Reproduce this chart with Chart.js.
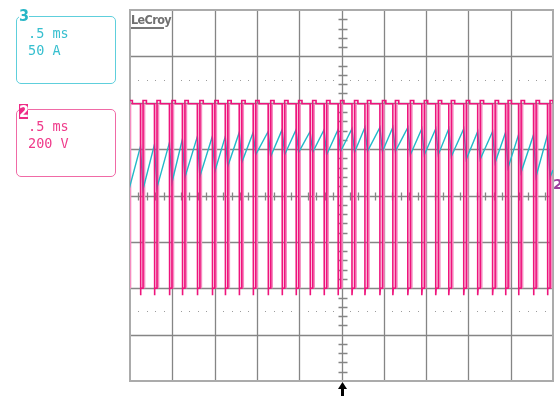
<!DOCTYPE html>
<html>
<head>
<meta charset="utf-8">
<script src="https://cdn.jsdelivr.net/npm/chart.js@4.4.1/dist/chart.umd.min.js"></script>
<style>
html,body{margin:0;padding:0;background:#fff;}
#wrap{position:relative;width:560px;height:396px;overflow:hidden;background:#fff;}
#c{position:absolute;left:0;top:0;}
.box{position:absolute;box-sizing:border-box;border-radius:5px;}
.txt{position:absolute;font-family:"DejaVu Sans Mono",monospace;font-size:13.5px;line-height:16px;white-space:pre;}
.lbl{position:absolute;font-family:"DejaVu Sans Condensed","DejaVu Sans",sans-serif;font-weight:bold;font-size:16px;line-height:15px;text-align:center;}
#lecroy{position:absolute;left:131px;top:12px;font-family:"DejaVu Sans Condensed","DejaVu Sans",sans-serif;font-weight:bold;font-size:12.5px;color:#707070;letter-spacing:-0.6px;line-height:15px;}
#lecroyline{position:absolute;left:131px;top:27px;width:33px;height:2px;background:#777;}
#mark2{position:absolute;left:553px;top:176px;font-family:"DejaVu Sans",sans-serif;font-weight:bold;font-size:14px;color:#9c3f9c;line-height:16px;}
</style>
</head>
<body>
<div id="wrap">
<canvas id="c" width="560" height="396"></canvas>
<div class="box" style="left:16px;top:16px;width:100px;height:68px;border:1.5px solid #5ecfdc;"></div>
<div class="lbl" style="left:19px;top:8px;width:10px;height:15px;background:#fff;color:#28b6c6;">3</div>
<div class="txt" style="left:28px;top:25px;color:#36bfcf;">.5 ms</div>
<div class="txt" style="left:28px;top:42px;color:#36bfcf;">50 A</div>
<div class="box" style="left:16px;top:109px;width:100px;height:68px;border:1.5px solid #f06aa6;"></div>
<div class="lbl" style="left:19px;top:104px;width:9px;height:15px;background:#ee2a86;color:#fff;">2</div>
<div class="txt" style="left:28px;top:118px;color:#ef3a8a;">.5 ms</div>
<div class="txt" style="left:28px;top:135px;color:#ef3a8a;">200 V</div>
<div id="lecroy">LeCroy</div>
<div id="lecroyline"></div>
<div id="mark2">2</div>
</div>
<script>
// ---- axes (time in ms, 0.5 ms/div; vertical in screen divisions) ----
const xGridMs = [-2.5, -2.0, -1.5, -1.0, -0.5, 0, 0.5, 1.0, 1.5, 2.0, 2.5];
const yGridDiv = [-4, -3, -2, -1, 0, 1, 2, 3, 4];
const dotRowsDiv = [2.5, -2.5];

const ch2RiseMs = [-2.512, -2.346, -2.181, -2.004, -1.851, -1.674, -1.497, -1.344, -1.179, -1.014,
  -0.837, -0.672, -0.507, -0.341, -0.176, -0.011, 0.154, 0.307, 0.484, 0.637,
  0.814, 0.979, 1.144, 1.298, 1.475, 1.640, 1.816, 1.969, 2.123, 2.300, 2.465];
const ch2FallMs = [-2.376, -2.211, -2.034, -1.881, -1.704, -1.527, -1.374, -1.209, -1.044, -0.867,
  -0.702, -0.537, -0.371, -0.206, -0.041, 0.124, 0.277, 0.454, 0.607, 0.784,
  0.949, 1.114, 1.268, 1.445, 1.610, 1.786, 1.939, 2.093, 2.270, 2.435];
const ch2HighDiv = 1.98;
const ch2OvershootDiv = 2.05;
const ch2LowDiv = -2.0;
const ch2UndershootDiv = -2.15;

// ---- channel 3 (current, 50 A/div): trough at each rise, peak at each fall ----
const ch3TroughDiv = [0.13, 0.13, 0.17, 0.28, 0.39, 0.41, 0.52, 0.63, 0.71, 0.88,
  0.84, 0.88, 0.93, 0.93, 0.88, 0.95, 0.93, 0.95, 0.95, 0.95,
  0.88, 0.88, 0.88, 0.84, 0.78, 0.78, 0.71, 0.60, 0.50, 0.41, 0.39];
const ch3PeakDiv = [1.06, 1.10, 1.14, 1.21, 1.27, 1.27, 1.27, 1.36, 1.36, 1.38,
  1.42, 1.42, 1.38, 1.42, 1.42, 1.44, 1.47, 1.47, 1.47, 1.47,
  1.44, 1.44, 1.44, 1.44, 1.38, 1.38, 1.36, 1.31, 1.31, 1.31];
const ch3EndMs = 2.5, ch3EndDiv = 0.55;

// build traces
const ch2Pts = [];
const ch2PaleEdges = [];
for (let k = 0; k < ch2RiseMs.length; k++) {
  const r = ch2RiseMs[k];
  ch2Pts.push({x: r, y: ch2LowDiv}, {x: r, y: ch2OvershootDiv}, {x: r + 0.04, y: ch2OvershootDiv}, {x: r + 0.04, y: ch2HighDiv});
  ch2PaleEdges.push({x: r + 0.012, y: ch2LowDiv}, {x: r + 0.012, y: ch2HighDiv}, {x: r + 0.012, y: null});
  if (k < ch2FallMs.length) {
    const f = ch2FallMs[k];
    ch2Pts.push({x: f, y: ch2HighDiv}, {x: f, y: ch2UndershootDiv}, {x: f + 0.005, y: ch2LowDiv});
  }
}
ch2Pts.push({x: 2.5, y: ch2HighDiv});

const ch3Pts = [];
for (let k = 0; k < ch2RiseMs.length; k++) {
  ch3Pts.push({x: ch2RiseMs[k], y: ch3TroughDiv[k]});
  if (k < ch2FallMs.length) ch3Pts.push({x: ch2FallMs[k], y: ch3PeakDiv[k]});
}
ch3Pts.push({x: ch3EndMs, y: ch3EndDiv});

const scopeGrid = {
  id: 'scopeGrid',
  beforeDatasetsDraw(chart) {
    const {ctx, chartArea: a, scales: {x, y}} = chart;
    ctx.save();
    ctx.fillStyle = '#9c9c9c';
    for (const yv of dotRowsDiv) {
      const py = Math.round(y.getPixelForValue(yv));
      for (let i = 0; i <= 50; i++) {
        if (i % 5 === 0) continue;
        const px = Math.round(x.getPixelForValue(-2.5 + i * 0.1));
        ctx.fillRect(px, py, 1, 1);
      }
    }
    ctx.strokeStyle = '#858585';
    ctx.lineWidth = 1.3;
    ctx.beginPath();
    for (const xv of xGridMs.slice(1, -1)) {
      const px = Math.round(x.getPixelForValue(xv)) + 0.5;
      ctx.moveTo(px, a.top); ctx.lineTo(px, a.bottom);
    }
    for (const yv of yGridDiv.slice(1, -1)) {
      const py = Math.round(y.getPixelForValue(yv)) + 0.5;
      ctx.moveTo(a.left, py); ctx.lineTo(a.right, py);
    }
    const cx = Math.round(x.getPixelForValue(0)) + 0.5;
    const cy = Math.round(y.getPixelForValue(0)) + 0.5;
    for (let i = 0; i <= 40; i++) {
      if (i % 5 === 0) continue;
      const py = Math.round(y.getPixelForValue(-4 + i * 0.2)) + 0.5;
      ctx.moveTo(cx - 4, py); ctx.lineTo(cx + 5, py);
    }
    for (let i = 0; i <= 50; i++) {
      if (i % 5 === 0) continue;
      const px = Math.round(x.getPixelForValue(-2.5 + i * 0.1)) + 0.5;
      ctx.moveTo(px, cy - 4); ctx.lineTo(px, cy + 4);
    }
    ctx.stroke();
    ctx.strokeStyle = '#ababab';
    ctx.lineWidth = 2;
    ctx.strokeRect(a.left, a.top, a.right - a.left, a.bottom - a.top);
    ctx.restore();
  },
  afterDraw(chart) {
    const {ctx, chartArea: a, scales: {x}} = chart;
    const cx = Math.round(x.getPixelForValue(0)) + 0.5;
    ctx.save();
    ctx.fillStyle = '#000';
    ctx.beginPath();
    ctx.moveTo(cx, a.bottom + 1);
    ctx.lineTo(cx - 4.5, a.bottom + 8);
    ctx.lineTo(cx + 4.5, a.bottom + 8);
    ctx.closePath();
    ctx.fill();
    ctx.fillRect(cx - 1.5, a.bottom + 7, 3, 20);
    ctx.restore();
  }
};

new Chart(document.getElementById('c'), {
  type: 'scatter',
  data: {
    datasets: [
      {label: 'CH2', data: ch2Pts, showLine: true, borderColor: '#ee147c', borderWidth: 1.6, pointRadius: 0, tension: 0, order: 0},
      {label: 'CH3', data: ch3Pts, showLine: true, borderColor: '#22b8c8', borderWidth: 1.4, pointRadius: 0, tension: 0, order: 1},
      {label: 'CH2 edges', data: ch2PaleEdges, showLine: true, spanGaps: false, borderColor: '#f58cc0', borderWidth: 2.6, pointRadius: 0, tension: 0, order: 2}
    ]
  },
  options: {
    responsive: false,
    devicePixelRatio: 1,
    animation: false,
    layout: {padding: {left: 130, right: 7, top: 10, bottom: 15}},
    plugins: {legend: {display: false}, tooltip: {enabled: false}},
    scales: {
      x: {type: 'linear', display: false, min: -2.5, max: 2.5},
      y: {type: 'linear', display: false, min: -4, max: 4}
    }
  },
  plugins: [scopeGrid]
});
</script>
</body>
</html>
